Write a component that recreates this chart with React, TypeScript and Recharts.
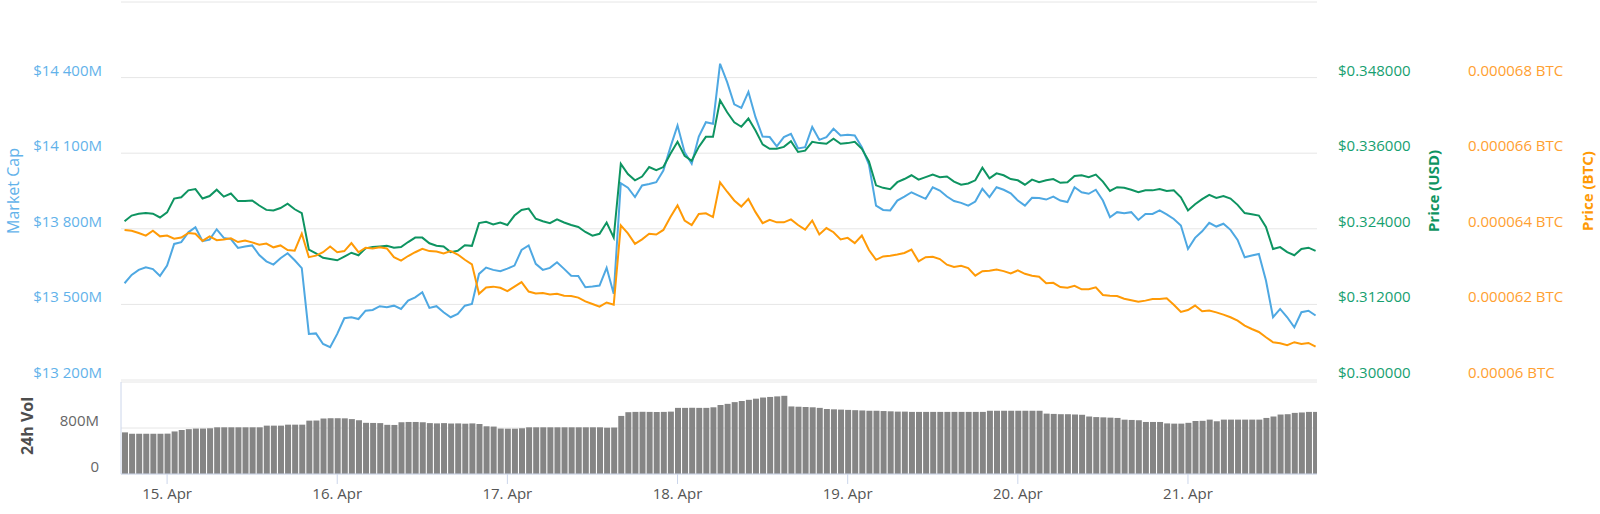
import React from "react";
import { ComposedChart, Line, Bar, XAxis, YAxis, CartesianGrid } from "recharts";

const FONT = "'Open Sans', sans-serif";

// hours relative to 15 Apr 00:00, one sample per hour starting 14 Apr 18:00
const START_HOUR = -6;
const X_DOMAIN: [number, number] = [-6.5, 162.2];
const DAY_TICKS = [0, 24, 48, 72, 96, 120, 144];
const DAY_LABELS = ["15. Apr", "16. Apr", "17. Apr", "18. Apr", "19. Apr", "20. Apr", "21. Apr"];

const MCAP_TICKS = [13200, 13500, 13800, 14100, 14400, 14700];
const USD_TICKS = [0.3, 0.312, 0.324, 0.336, 0.348, 0.36];
const BTC_TICKS = [60, 62, 64, 66, 68, 70]; // in 1e-6 BTC
const VOL_TICKS = [0, 800];

// market cap, $M
const marketCap = [
  13584, 13617, 13637, 13647, 13640, 13613,
  13654, 13740, 13747, 13786, 13806, 13751, 13757, 13798, 13764, 13759,
  13724, 13730, 13734, 13696, 13671, 13658, 13683, 13703, 13675, 13644,
  13383, 13385, 13343, 13330, 13383, 13445, 13449, 13442, 13475, 13478,
  13493, 13489, 13495, 13482, 13515, 13528, 13548, 13486, 13493, 13469,
  13449, 13462, 13495, 13502, 13621, 13646, 13637, 13632, 13642, 13654,
  13716, 13734, 13661, 13637, 13645, 13667, 13641, 13614, 13613, 13568,
  13571, 13575, 13645, 13542, 13981, 13963, 13926, 13972, 13978, 13985,
  14031, 14124, 14210, 14104, 14058, 14166, 14223, 14217, 14455, 14382,
  14294, 14280, 14343, 14243, 14166, 14164, 14127, 14164, 14177, 14119,
  14124, 14204, 14153, 14164, 14197, 14170, 14173, 14170, 14124, 14055,
  13892, 13875, 13873, 13912, 13928, 13945, 13932, 13919, 13965, 13952,
  13928, 13910, 13903, 13892, 13908, 13959, 13926, 13965, 13955, 13941,
  13912, 13892, 13923, 13922, 13916, 13928, 13912, 13906, 13965, 13945,
  13939, 13955, 13912, 13846, 13866, 13862, 13866, 13835, 13859, 13859,
  13873, 13857, 13839, 13813, 13720, 13764, 13790, 13824, 13809, 13820,
  13796, 13756, 13687, 13694, 13700, 13595, 13449, 13482, 13449, 13409,
  13469, 13475, 13456,
];

// price, USD
const priceUsd = [
  0.3252, 0.3261, 0.3264, 0.3265, 0.3264, 0.3258,
  0.3266, 0.3288, 0.329, 0.3301, 0.3303, 0.3288, 0.3292, 0.3302, 0.3291, 0.3296,
  0.3284, 0.3284, 0.3285, 0.3277, 0.327, 0.3269, 0.3273, 0.328, 0.3271, 0.3265,
  0.3207, 0.3201, 0.3194, 0.3192, 0.319, 0.3196, 0.3202, 0.3198, 0.3209, 0.3211,
  0.3212, 0.3213, 0.321, 0.3211, 0.3219, 0.3226, 0.3226, 0.3217, 0.3213, 0.3212,
  0.3203, 0.3205, 0.3214, 0.3213, 0.3249, 0.3251, 0.3247, 0.325, 0.3246, 0.3261,
  0.327, 0.3272, 0.3256, 0.3252, 0.3249, 0.3255, 0.325, 0.3246, 0.3243, 0.3235,
  0.3229, 0.3232, 0.325, 0.3226, 0.3343, 0.3327, 0.3317, 0.3323, 0.3338, 0.3333,
  0.3338, 0.3359, 0.3378, 0.3356, 0.3348, 0.337, 0.3386, 0.3386, 0.3444, 0.3425,
  0.3409, 0.3402, 0.3415, 0.3396, 0.3374, 0.3367, 0.3367, 0.337, 0.3379, 0.3362,
  0.3364, 0.3378, 0.3376, 0.3375, 0.3383, 0.3375, 0.3376, 0.3378, 0.3367, 0.3347,
  0.3309, 0.3305, 0.3303, 0.3314, 0.3319, 0.3325, 0.3318, 0.3322, 0.3326, 0.3322,
  0.3323, 0.3315, 0.331, 0.3312, 0.3317, 0.3337, 0.332, 0.3328, 0.3325, 0.3319,
  0.3317, 0.331, 0.3318, 0.3314, 0.3317, 0.3319, 0.3313, 0.3314, 0.3324, 0.3325,
  0.3322, 0.3326, 0.3315, 0.33, 0.3306, 0.3305, 0.3302, 0.3298, 0.3301, 0.3301,
  0.3303, 0.33, 0.3301, 0.329, 0.3269, 0.3279, 0.3287, 0.3294, 0.3289, 0.3292,
  0.3288, 0.3278, 0.3265, 0.3263, 0.3261, 0.3243, 0.3208, 0.3211, 0.3203, 0.3198,
  0.3208, 0.321, 0.3205,
];

// price, 1e-6 BTC
const priceBtc = [
  63.97, 63.95, 63.89, 63.82, 63.95, 63.8,
  63.82, 63.74, 63.77, 63.89, 63.87, 63.68, 63.8, 63.7, 63.72, 63.75,
  63.65, 63.69, 63.64, 63.58, 63.61, 63.51, 63.56, 63.44, 63.42, 63.87,
  63.25, 63.29, 63.38, 63.53, 63.38, 63.41, 63.62, 63.38, 63.5, 63.48,
  63.51, 63.48, 63.25, 63.16, 63.28, 63.38, 63.47, 63.41, 63.4, 63.35,
  63.41, 63.32, 63.18, 63.06, 62.28, 62.45, 62.47, 62.44, 62.35, 62.47,
  62.59, 62.34, 62.29, 62.3, 62.26, 62.28, 62.23, 62.22, 62.18, 62.08,
  62.01, 61.94, 62.05, 61.99, 64.09, 63.88, 63.6, 63.72, 63.87, 63.85,
  63.97, 64.31, 64.62, 64.22, 64.1, 64.39, 64.41, 64.31, 65.23, 64.98,
  64.75, 64.59, 64.79, 64.44, 64.15, 64.24, 64.17, 64.17, 64.25, 64.1,
  63.98, 64.22, 63.85, 64.02, 63.91, 63.72, 63.76, 63.62, 63.82, 63.44,
  63.18, 63.27, 63.29, 63.32, 63.36, 63.45, 63.14, 63.25, 63.26, 63.2,
  63.05, 62.99, 63.02, 62.96, 62.76, 62.88, 62.89, 62.92, 62.88, 62.82,
  62.9, 62.81, 62.76, 62.73, 62.56, 62.57, 62.46, 62.44, 62.49, 62.4,
  62.4, 62.45, 62.25, 62.23, 62.22, 62.15, 62.11, 62.07, 62.1, 62.14,
  62.14, 62.16, 61.99, 61.8, 61.85, 61.97, 61.82, 61.84, 61.79, 61.73,
  61.66, 61.57, 61.44, 61.35, 61.27, 61.13, 61.0, 60.97, 60.92, 61.0,
  60.95, 60.98, 60.88,
];

// 24h volume, $M
const volume24h = [
  724, 700, 700, 700, 700, 700,
  702, 740, 765, 780, 790, 790, 795, 812, 812, 812,
  812, 812, 812, 812, 841, 841, 841, 858, 858, 858,
  928, 930, 965, 970, 970, 968, 955, 935, 890, 888,
  885, 855, 853, 900, 905, 905, 900, 885, 880, 885,
  878, 880, 875, 880, 870, 830, 825, 790, 788, 788,
  795, 812, 812, 812, 812, 812, 812, 812, 812, 812,
  812, 812, 805, 808, 1010, 1075, 1080, 1082, 1080, 1078,
  1080, 1085, 1150, 1150, 1152, 1150, 1150, 1160, 1200, 1220,
  1250, 1270, 1290, 1310, 1330, 1340, 1350, 1360, 1175, 1170,
  1165, 1160, 1150, 1130, 1125, 1120, 1115, 1110, 1105, 1100,
  1100, 1095, 1090, 1085, 1085, 1080, 1080, 1080, 1080, 1080,
  1080, 1080, 1080, 1080, 1080, 1080, 1100, 1100, 1100, 1100,
  1100, 1100, 1100, 1100, 1050, 1045, 1040, 1040, 1035, 1030,
  1000, 990, 985, 980, 975, 945, 940, 935, 905, 905,
  905, 880, 876, 876, 890, 922, 925, 946, 917, 946,
  946, 946, 946, 946, 946, 975, 1000, 1034, 1040, 1063,
  1070, 1080, 1080,
];

const rows = marketCap.map((m, i) => ({
  t: START_HOUR + i,
  mcap: m,
  usd: priceUsd[i],
  btc: priceBtc[i],
  vol: volume24h[i],
}));

const BLUE = "#4ea8e2";
const BLUE_TEXT = "#62b2ea";
const GREEN = "#0e9461";
const GREEN_TEXT = "#16a070";
const ORANGE = "#ff9a06";
const ORANGE_TEXT = "#ffa030";
const GRID = "#e6e6e6";
const AXIS = "#ccd6eb";

const fmtMcap = (v: number) => `$${Math.floor(v / 1000)} ${String(v % 1000).padStart(3, "0")}M`;
const fmtUsd = (v: number) => `$${v.toFixed(6)}`;
const fmtBtc = (v: number) => `${Number((v / 1e6).toFixed(6)).toString()} BTC`;
const fmtVol = (v: number) => (v === 0 ? "0" : `${v}M`);

// y-axis labels sit a little above their grid line, like highcharts
function makeTick(color: string, anchor: string, fmt: (v: number) => string, hideAt?: number) {
  return (props: any) => {
    const { x, y, payload } = props;
    if (hideAt != null && Math.abs(payload.value - hideAt) < 1e-9) return <g />;
    return (
      <text
        x={x}
        y={y - 8}
        fill={color}
        fontSize={15}
        fontFamily={FONT}
        textAnchor={anchor}
        dominantBaseline="central"
      >
        {fmt(payload.value)}
      </text>
    );
  };
}

function AxisTitle({ cx, cy, text, color, size, weight }: any) {
  return (
    <text
      x={cx}
      y={cy}
      transform={`rotate(-90 ${cx} ${cy})`}
      fill={color}
      fontSize={size}
      fontWeight={weight}
      fontFamily={FONT}
      textAnchor="middle"
      dominantBaseline="central"
    >
      {text}
    </text>
  );
}

export default function App() {
  return (
    <div style={{ position: "absolute", left: 0, top: 0, width: 1600, height: 514, background: "#fff" }}>
      <div style={{ position: "absolute", left: 0, top: 0 }}>
        <ComposedChart width={1600} height={382} data={rows} margin={{ top: 2, right: 0, bottom: 2, left: 0 }}>
          <CartesianGrid yAxisId="a_mcap" horizontal vertical={false} stroke={GRID} />
          <XAxis dataKey="t" type="number" domain={X_DOMAIN} allowDataOverflow hide />
          <YAxis
            yAxisId="a_mcap"
            orientation="left"
            width={121}
            domain={[13200, 14700]}
            ticks={MCAP_TICKS}
            interval={0}
            allowDataOverflow
            axisLine={false}
            tickLine={false}
            tickSize={0}
            tickMargin={19}
            tick={makeTick(BLUE_TEXT, "end", fmtMcap, 14700)}
            label={<AxisTitle cx={13} cy={191} text="Market Cap" color={BLUE_TEXT} size={16} weight={400} />}
          />
          <YAxis
            yAxisId="b_usd"
            orientation="right"
            width={140}
            domain={[0.3, 0.36]}
            ticks={USD_TICKS}
            interval={0}
            allowDataOverflow
            axisLine={false}
            tickLine={false}
            tickSize={0}
            tickMargin={21}
            tick={makeTick(GREEN_TEXT, "start", fmtUsd, 0.36)}
            label={<AxisTitle cx={1433} cy={191} text="Price (USD)" color={GREEN} size={15} weight={700} />}
          />
          <YAxis
            yAxisId="c_btc"
            orientation="right"
            width={143}
            domain={[60, 70]}
            ticks={BTC_TICKS}
            interval={0}
            allowDataOverflow
            axisLine={false}
            tickLine={false}
            tickSize={0}
            tickMargin={11}
            tick={makeTick(ORANGE_TEXT, "start", fmtBtc, 70)}
            label={<AxisTitle cx={1587} cy={191} text="Price (BTC)" color={ORANGE} size={15} weight={700} />}
          />
          <Line
            yAxisId="a_mcap"
            dataKey="mcap"
            name="Market Cap"
            stroke={BLUE}
            strokeWidth={2}
            dot={false}
            isAnimationActive={false}
          />
          <Line
            yAxisId="b_usd"
            dataKey="usd"
            name="Price (USD)"
            stroke={GREEN}
            strokeWidth={2}
            dot={false}
            isAnimationActive={false}
          />
          <Line
            yAxisId="c_btc"
            dataKey="btc"
            name="Price (BTC)"
            stroke={ORANGE}
            strokeWidth={2}
            dot={false}
            isAnimationActive={false}
          />
        </ComposedChart>
      </div>
      <div style={{ position: "absolute", left: 0, top: 378 }}>
        <ComposedChart width={1600} height={136} data={rows} margin={{ top: 4, right: 283, bottom: 0, left: 0 }}>
          <CartesianGrid horizontal vertical={false} stroke={GRID} />
          <XAxis
            dataKey="t"
            type="number"
            domain={X_DOMAIN}
            allowDataOverflow
            ticks={DAY_TICKS}
            interval={0}
            height={40}
            tickSize={10}
            tickMargin={4}
            axisLine={{ stroke: AXIS }}
            tickLine={{ stroke: AXIS }}
            tick={{ fill: "#555", fontSize: 15, fontFamily: FONT }}
            tickFormatter={(v: number) => DAY_LABELS[DAY_TICKS.indexOf(v)] ?? ""}
          />
          <YAxis
            width={121}
            domain={[0, 1600]}
            ticks={VOL_TICKS}
            interval={0}
            allowDataOverflow
            axisLine={{ stroke: AXIS }}
            tickLine={false}
            tickSize={0}
            tickMargin={22}
            tick={makeTick("#666", "end", fmtVol)}
            label={<AxisTitle cx={27} cy={48} text="24h Vol" color="#4d4d4d" size={16} weight={700} />}
          />
          <Bar dataKey="vol" name="24h Vol" fill="#858585" barSize={6} isAnimationActive={false} />
        </ComposedChart>
      </div>
    </div>
  );
}
